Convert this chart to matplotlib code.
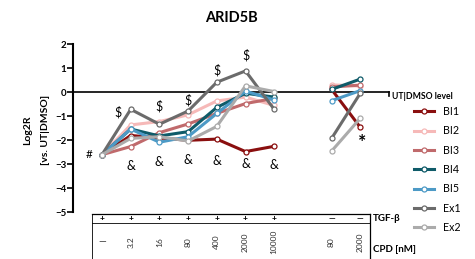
import matplotlib
matplotlib.use("Agg")
import matplotlib.pyplot as plt
from matplotlib.lines import Line2D

plt.rcParams["font.family"] = ["Lato", "DejaVu Sans"]

# x slots: 7 TGF-b treated doses, gap, 2 untreated doses
positions = [0, 1, 2, 3, 4, 5, 6, 8, 9]
cpd_labels = ["\u2014", "3.2", "16", "80", "400", "2000", "10000", "80", "2000"]
tgf_labels = ["+", "+", "+", "+", "+", "+", "+", "\u2014", "\u2014"]

series_names = ["BI1", "BI2", "BI3", "BI4", "BI5", "Ex1", "Ex2"]
colors = ["#8a0f0f", "#f6b9b8", "#c06a6c", "#0f5b69", "#4d9ac6", "#6b6b6b", "#ababab"]

# TGF-b block (7 points) and untreated block (2 points)
tgf_values = {
    "BI1": [-2.6, -1.8, -1.9, -2.0, -1.95, -2.47, -2.25],
    "BI2": [-2.6, -1.36, -1.22, -0.94, -0.36, -0.2, -0.55],
    "BI3": [-2.6, -2.26, -1.68, -1.32, -0.88, -0.47, -0.25],
    "BI4": [-2.6, -1.53, -1.82, -1.64, -0.63, -0.04, -0.2],
    "BI5": [-2.6, -1.53, -2.08, -1.85, -0.88, 0.05, -0.32],
    "Ex1": [-2.6, -0.71, -1.33, -0.78, 0.42, 0.89, -0.71],
    "Ex2": [-2.6, -1.92, -1.85, -2.03, -1.42, 0.27, 0.03],
}
ut_values = {
    "BI1": [0.12, -1.46],
    "BI2": [0.31, 0.26],
    "BI3": [0.22, 0.3],
    "BI4": [0.12, 0.55],
    "BI5": [-0.35, 0.07],
    "Ex1": [-1.92, -0.04],
    "Ex2": [-2.45, -1.08],
}

dollar_pos = [0.55, 2, 3, 4, 5]
dollar_y = [-0.85, -0.6, -0.32, 0.9, 1.54]
amp_pos = [1, 2, 3, 4, 5, 6]
amp_y = [-3.05, -2.9, -2.83, -2.86, -3.0, -3.03]

W, H = 475, 259
fig = plt.figure(figsize=(W / 100, H / 100), dpi=100)
ax = fig.add_axes([0, 0, 1, 1])

# pixel mapping: x=0 -> 102 px, 28.7 px per slot; y=0 -> 92.3 px, 24 px per unit
px0, pxs = 102.0, 28.7
py0, pys = 92.3, 24.0
ax.set_xlim(-px0 / pxs, (W - px0) / pxs)
ax.set_ylim((py0 - H) / pys, py0 / pys)


def yv(py):
    return (py0 - py) / pys


def xv(px):
    return (px - px0) / pxs


for name, col in zip(series_names, colors):
    kw = dict(color=col, lw=2.2, marker="o", ms=3.6, mfc="white",
              mec=col, mew=0.9, solid_capstyle="round")
    ax.plot(positions[:7], tgf_values[name], **kw)
    ax.plot(positions[7:], ut_values[name], **kw)

# UT|DMSO reference line
ax.plot([-1, 10.0], [0, 0], color="black", lw=1.2, zorder=0)
ax.plot([10.0, 10.0], [0, -0.17], color="black", lw=1.2)
ax.text(xv(392), 0.0, "UT|DMSO level", fontsize=6.2, fontweight="bold",
        ha="left", va="top")

for x, y in zip(dollar_pos, dollar_y):
    ax.text(x, y, "$", fontsize=9, ha="center", va="center")
for x, y in zip(amp_pos, amp_y):
    ax.text(x, y, "&", fontsize=9, ha="center", va="center")
ax.text(xv(89), -2.61, "#", fontsize=8.5, ha="center", va="center")
ax.text(xv(362), -2.1, "*", fontsize=14, fontweight="bold", ha="center", va="center")

# axes styling
for s in ["top", "right", "bottom"]:
    ax.spines[s].set_visible(False)
ax.spines["left"].set_position(("data", -1))
ax.spines["left"].set_bounds(-5, 2)
ax.spines["left"].set_linewidth(1.5)
ax.set_yticks(range(-5, 3))
ax.set_xticks([])
ax.tick_params(axis="y", length=4, width=1.2, pad=1, labelsize=7)
for lab in ax.get_yticklabels():
    lab.set_fontweight("bold")

# treatment table under the plot
x_left, x_right = xv(92), xv(370)
y_top, y_mid, y_bot = yv(214), yv(223), yv(H)
ax.plot([x_left, x_right], [y_top, y_top], color="black", lw=0.9, clip_on=False)
ax.plot([x_left, x_right], [y_mid, y_mid], color="black", lw=0.6, clip_on=False)
ax.plot([x_left, x_left], [y_top, y_bot], color="black", lw=0.6, clip_on=False)
ax.plot([x_right, x_right], [y_top, y_bot], color="black", lw=0.9, clip_on=False)
for x, t in zip(positions, tgf_labels):
    ax.text(x, yv(218.5), t, fontsize=6, fontweight="bold", ha="center", va="center")
for x, t in zip(positions, cpd_labels):
    if t == "\u2014":
        ax.text(x, yv(242), t, fontsize=7, rotation=0, ha="center",
                va="center", color="#333333")
    else:
        ax.text(x, yv(242), t, fontsize=6, rotation=90, ha="center",
                va="center", color="#333333")
ax.text(xv(373), yv(218.5), "TGF-\u03b2", fontsize=7, fontweight="bold",
        ha="left", va="center")
ax.text(xv(373), yv(250), "CPD [nM]", fontsize=7, fontweight="bold",
        ha="left", va="center")

# title and y label
fig.text(231 / W, 1 - 18 / H, "ARID5B", fontsize=10.5, fontweight="bold",
         ha="center", va="center")
fig.text(28 / W, 1 - 130 / H, "Log2R", fontsize=7.5, fontweight="bold",
         rotation=90, ha="center", va="center")
fig.text(46 / W, 1 - 130 / H, "[vs. UT|DMSO]", fontsize=7.5, fontweight="bold",
         rotation=90, ha="center", va="center")

handles = [Line2D([], [], color=c, lw=2.2, marker="o", ms=3.6, mfc="white",
                  mec=c, mew=0.9) for c in colors]
fig.legend(handles, series_names, loc="upper left",
           bbox_to_anchor=(414 / W, 1 - 106 / H), frameon=False,
           fontsize=7.7, handlelength=1.9, handletextpad=0.8,
           labelspacing=0.78, borderpad=0, borderaxespad=0)

fig.savefig("out.png", dpi=100)
